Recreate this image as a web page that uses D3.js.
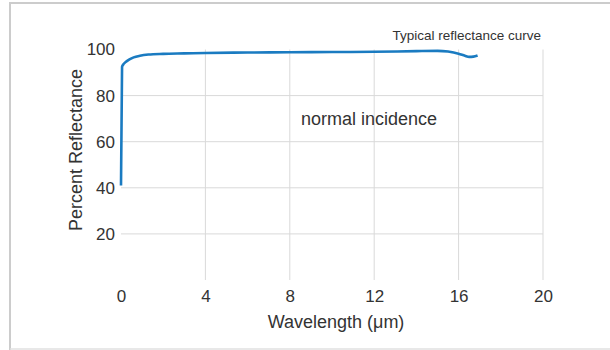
<!DOCTYPE html>
<html>
<head>
<meta charset="utf-8">
<script src="https://cdn.jsdelivr.net/npm/d3@7"></script>
<style>
  html, body { margin: 0; padding: 0; background: #fff; }
  svg { display: block; }
</style>
</head>
<body>
<svg id="chart" width="610" height="350"></svg>
<script>
// Data
const wavelength = [0, 0.05, 0.1, 0.2, 0.4, 0.6, 0.9, 1.3, 2, 3, 4, 6, 8, 10, 12, 14, 15, 15.5, 16, 16.3, 16.5, 16.7, 16.9];
const reflectance = [41, 92.5, 93.4, 94.4, 95.7, 96.6, 97.3, 97.8, 98.1, 98.3, 98.5, 98.7, 98.8, 98.9, 99.0, 99.3, 99.4, 99.1, 98.2, 97.3, 96.8, 96.9, 97.4];
const xTicks = [0, 4, 8, 12, 16, 20];
const yTicks = [20, 40, 60, 80, 100];
const xTitle = "Wavelength (μm)";
const yTitle = "Percent Reflectance";
const chartTitle = "Typical reflectance curve";
const note = "normal incidence";

const svg = d3.select("#chart");
const font = "'Liberation Sans', Arial, sans-serif";

// frame
svg.append("path")
  .attr("d", "M10,352 L10,3 L612,3")
  .attr("fill", "none").attr("stroke", "#cccccc").attr("stroke-width", 2);
svg.append("line").attr("x1", 10).attr("x2", 612).attr("y1", 349).attr("y2", 349)
  .attr("stroke", "#e0e0e0").attr("stroke-width", 1.5);

const x = d3.scaleLinear().domain([0, 20]).range([121, 543]);
const y = d3.scaleLinear().domain([0, 100]).range([280, 49.5]);

// gridlines
const g = svg.append("g");
g.selectAll(".vg").data(xTicks.filter(d => d !== 0)).enter().append("line")
  .attr("x1", d => x(d)).attr("x2", d => x(d))
  .attr("y1", y(100)).attr("y2", y(0))
  .attr("stroke", "#d9d9d9").attr("stroke-width", 1);
g.selectAll(".hg").data(yTicks.filter(d => d !== 100)).enter().append("line")
  .attr("x1", x(0)).attr("x2", x(20))
  .attr("y1", d => y(d)).attr("y2", d => y(d))
  .attr("stroke", "#d9d9d9").attr("stroke-width", 1);

// axes (labels only)
const xAxis = d3.axisBottom(x).tickValues(xTicks).tickSize(0).tickPadding(0);
const xg = svg.append("g").attr("transform", "translate(0,290)").call(xAxis);
xg.select(".domain").remove();
xg.selectAll("text").attr("font-family", font).attr("font-size", 17).attr("fill", "#333")
  .attr("dy", "0.71em");

const yAxis = d3.axisLeft(y).tickValues(yTicks).tickSize(0).tickPadding(6);
const yg = svg.append("g").attr("transform", "translate(121,0)").call(yAxis);
yg.select(".domain").remove();
yg.selectAll("text").attr("font-family", font).attr("font-size", 17).attr("fill", "#333");

// titles
svg.append("text").attr("x", 336).attr("y", 328).attr("text-anchor", "middle")
  .attr("font-family", font).attr("font-size", 18).attr("fill", "#333").text(xTitle);
svg.append("text").attr("transform", "translate(82,150) rotate(-90)").attr("text-anchor", "middle")
  .attr("font-family", font).attr("font-size", 18).attr("fill", "#333").text(yTitle);
svg.append("text").attr("x", 541).attr("y", 39.5).attr("text-anchor", "end")
  .attr("font-family", font).attr("font-size", 13.5).attr("fill", "#333").text(chartTitle);
svg.append("text").attr("x", 301).attr("y", 125).attr("text-anchor", "start")
  .attr("font-family", font).attr("font-size", 18).attr("fill", "#333").text(note);

// curve
const pts = wavelength.map((w, i) => [w, reflectance[i]]);
const line = d3.line().x(d => x(d[0])).y(d => y(d[1])).curve(d3.curveMonotoneX);
svg.append("path").datum(pts).attr("d", line)
  .attr("fill", "none").attr("stroke", "#1a7bc1").attr("stroke-width", 2.6)
  .attr("stroke-linejoin", "round").attr("stroke-linecap", "butt");
</script>
</body>
</html>
